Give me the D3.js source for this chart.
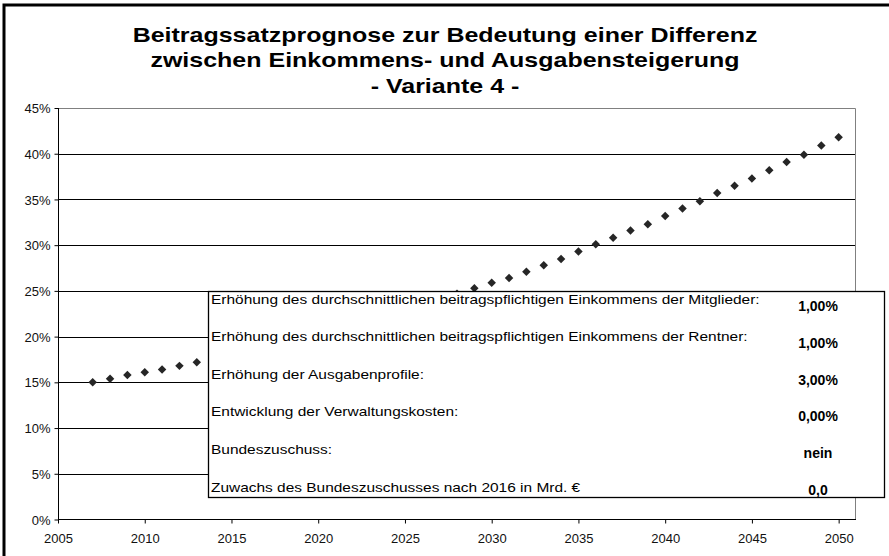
<!DOCTYPE html>
<html>
<head>
<meta charset="utf-8">
<script src="https://cdn.jsdelivr.net/npm/d3@7"></script>
<style>
  html, body { margin: 0; padding: 0; background: #fff; }
  svg { display: block; font-family: "Liberation Sans", Arial, sans-serif; }
</style>
</head>
<body>
<svg id="chart" width="889" height="556"></svg>
<script>
// title lines
var titleLines = [
    "Beitragssatzprognose zur Bedeutung einer Differenz",
    "zwischen Einkommens- und Ausgabensteigerung",
    "- Variante 4 -"
];

// years and projected contribution rate (%)
var years = [2007, 2008, 2009, 2010, 2011, 2012, 2013, 2014, 2015, 2016,
    2017, 2018, 2019, 2020, 2021, 2022, 2023, 2024, 2025, 2026,
    2027, 2028, 2029, 2030, 2031, 2032, 2033, 2034, 2035, 2036,
    2037, 2038, 2039, 2040, 2041, 2042, 2043, 2044, 2045, 2046,
    2047, 2048, 2049, 2050];
var rates = [15.0, 15.4, 15.8, 16.1, 16.4, 16.8, 17.2, 17.6, 18.0, 18.4,
    18.9, 19.3, 19.8, 20.3, 20.8, 21.3, 21.8, 22.3, 22.9, 23.5,
    24.1, 24.7, 25.3, 25.9, 26.4, 27.1, 27.8, 28.5, 29.3, 30.1,
    30.8, 31.6, 32.3, 33.2, 34.0, 34.8, 35.7, 36.5, 37.3, 38.2,
    39.1, 39.9, 40.9, 41.8];

// axis ticks
var xTicks = [2005, 2010, 2015, 2020, 2025, 2030, 2035, 2040, 2045, 2050];
var yTicks = [0, 5, 10, 15, 20, 25, 30, 35, 40, 45];

// parameter table
var paramLabels = [
    "Erhöhung des durchschnittlichen beitragspflichtigen Einkommens der Mitglieder:",
    "Erhöhung des durchschnittlichen beitragspflichtigen Einkommens der Rentner:",
    "Erhöhung der Ausgabenprofile:",
    "Entwicklung der Verwaltungskosten:",
    "Bundeszuschuss:",
    "Zuwachs des Bundeszuschusses nach 2016 in Mrd. €"
];
var paramValues = ["1,00%", "1,00%", "3,00%", "0,00%", "nein", "0,0"];

var svg = d3.select("#chart");

var plot = { left: 58, right: 856, top: 108, bottom: 519.5 };

var x = d3.scaleLinear().domain([2005, 2051]).range([plot.left, plot.right]);
var y = d3.scaleLinear().domain([0, 45]).range([plot.bottom, plot.top]);

// the source text is a bit wider than Liberation Sans
var STRETCH = 1.19;

// outer frame (right and bottom edges fall outside the picture)
svg.append("rect")
    .attr("x", 4).attr("y", 5)
    .attr("width", 900).attr("height", 600)
    .attr("fill", "#fff")
    .attr("stroke", "#000")
    .attr("stroke-width", 3);

// title
svg.append("g")
    .attr("transform", "translate(445,0) scale(" + STRETCH + ",1)")
    .selectAll("text")
    .data(titleLines)
    .enter().append("text")
    .attr("x", 0)
    .attr("y", (d, i) => 42 + i * 25.5)
    .attr("text-anchor", "middle")
    .style("font-size", "21px")
    .style("font-weight", "bold")
    .text((d) => d);

// grid lines
svg.append("g").selectAll("line")
    .data(yTicks.filter((t) => t > 0 && t < 45))
    .enter().append("line")
    .attr("x1", plot.left).attr("x2", plot.right)
    .attr("y1", (d) => Math.round(y(d)) + 0.5)
    .attr("y2", (d) => Math.round(y(d)) + 0.5)
    .attr("stroke", "#000")
    .attr("stroke-width", 1);

// plot area border top/right
svg.append("path")
    .attr("d", "M" + plot.left + "," + (Math.round(plot.top) + 0.5) +
        "H" + (Math.round(plot.right) - 0.5) + "V" + plot.bottom)
    .attr("fill", "none")
    .attr("stroke", "#808080");

// axes
var xAxis = svg.append("g")
    .attr("transform", "translate(0," + (Math.round(plot.bottom) - 0.5) + ")")
    .call(d3.axisBottom(x).tickValues(xTicks).tickFormat(d3.format("d"))
        .tickSize(4).tickSizeOuter(0));
xAxis.select(".domain").attr("d", "M" + plot.left + ",0H" + plot.right);
xAxis.selectAll("text")
    .attr("dy", "0")
    .attr("y", 23)
    .style("font-size", "13px")
    .style("font-family", "'Liberation Sans', Arial, sans-serif")
    .attr("fill", "#111");

var yAxis = svg.append("g")
    .attr("transform", "translate(" + (plot.left + 0.5) + ",0)")
    .call(d3.axisLeft(y).tickValues(yTicks).tickFormat((d) => d + "%")
        .tickSize(4).tickSizeOuter(0));
yAxis.select(".domain").attr("d", "M0," + plot.top + "V" + plot.bottom);
yAxis.selectAll("text")
    .attr("x", -8)
    .attr("dy", "0.35em")
    .style("font-size", "13px")
    .style("font-family", "'Liberation Sans', Arial, sans-serif")
    .attr("fill", "#111");

// data markers (diamonds)
var diamond = d3.symbol().type(d3.symbolSquare).size(36);
svg.append("g").selectAll("path")
    .data(years.map((yr, i) => [yr, rates[i]]))
    .enter().append("path")
    .attr("d", diamond)
    .attr("transform", (d) => "translate(" + x(d[0]) + "," + y(d[1]) + ") rotate(45)")
    .attr("fill", "#262626");

// parameter table box
var box = { x: 208, y: 291, w: 676, h: 206 };
var tbl = svg.append("g");
tbl.append("rect")
    .attr("x", box.x + 0.5).attr("y", box.y + 0.5)
    .attr("width", box.w).attr("height", box.h)
    .attr("fill", "#fff")
    .attr("stroke", "#000")
    .attr("stroke-width", 1.3);

var rowY = d3.scaleLinear().domain([0, 5]).range([303.5, 491.5]);
var valY = d3.scaleLinear().domain([0, 5]).range([311, 495]);

tbl.selectAll("text.lbl")
    .data(paramLabels)
    .enter().append("text")
    .attr("class", "lbl")
    .attr("transform", (d, i) => "translate(211," + rowY(i) + ") scale(" + STRETCH + ",1)")
    .style("font-size", "13px")
    .text((d) => d);

tbl.selectAll("text.val")
    .data(paramValues)
    .enter().append("text")
    .attr("class", "val")
    .attr("x", 818)
    .attr("y", (d, i) => valY(i))
    .attr("text-anchor", "middle")
    .style("font-size", "14px")
    .style("font-weight", "bold")
    .text((d) => d);
</script>
</body>
</html>
